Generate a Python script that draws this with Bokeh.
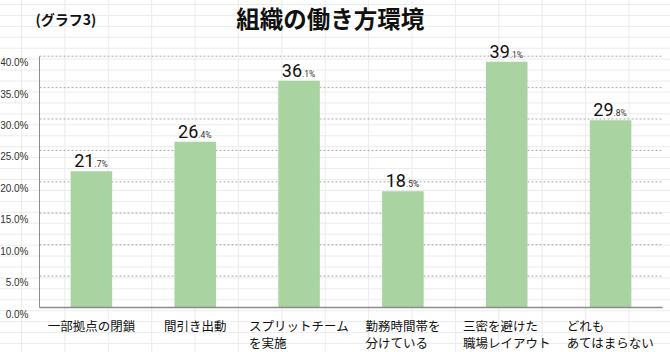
from bokeh.plotting import figure
from bokeh.models import ColumnDataSource, LabelSet, Label, FixedTicker, Range1d
from bokeh.core.properties import value
from bokeh.embed import file_html
from bokeh.resources import INLINE

# ---- data ----
categories = [
    "一部拠点の閉鎖",
    "間引き出動",
    "スプリットチーム\nを実施",
    "勤務時間帯を\n分けている",
    "三密を避けた\n職場レイアウト",
    "どれも\nあてはまらない",
]
values = [21.7, 26.4, 36.1, 18.5, 39.1, 29.8]
y_ticks = [0, 5, 10, 15, 20, 25, 30, 35, 40]
y_tick_labels = ["0.0%", "5.0%", "10.0%", "15.0%", "20.0%", "25.0%", "30.0%", "35.0%", "40.0%"]
title_text = "組織の働き方環境"
subtitle_text = "(グラフ3)"

JP = "Noto Sans CJK JP"
NUM = "Roboto"
BAR = "#a9d3a0"

n = len(categories)
xpos = [i + 0.5 for i in range(n)]
int_txt = [str(int(v)) for v in values]
dec_txt = ["." + str(int(round(v * 10)) % 10) + "%" for v in values]
src = ColumnDataSource(dict(x=xpos, val=values, it=int_txt, dt=dec_txt))

W, H = 670, 352
left_px, right_px, top_px, bottom_px = 39, 8, 55.7, 45
ymax = y_ticks[-1]
px_x = (W - left_px - right_px) / n
px_y = (H - top_px - bottom_px) / ymax

p = figure(width=W, height=H,
           x_range=Range1d(-left_px / px_x, n + right_px / px_x),
           y_range=Range1d(-bottom_px / px_y, ymax + top_px / px_y),
           output_backend="svg", toolbar_location=None, title_location=None,
           min_border=0)
p.background_fill_alpha = 0
p.border_fill_alpha = 0
p.outline_line_color = None
p.grid.visible = False
p.styles = {
    "background-color": "white",
    "background-image": "linear-gradient(to right, #ebebeb 1px, transparent 1px), "
                        "linear-gradient(to bottom, #ebebeb 1px, transparent 1px)",
    "background-size": "43.4px 10.95px",
    "background-position": "21px 4px",
}

# axes drawn inside the frame at fixed locations
p.xaxis.fixed_location = 0
p.xaxis.bounds = (0, n)
p.yaxis.fixed_location = 0
p.yaxis.bounds = (0, ymax)
for ax in (p.xaxis, p.yaxis):
    ax.ticker = FixedTicker(ticks=[])
    ax.major_tick_line_color = None
    ax.minor_tick_line_color = None
    ax.axis_line_color = "#8c8c8c"
p.xaxis.axis_line_width = 1.5

# dotted gridlines
gl = y_ticks[1:]
p.segment(x0=[0] * len(gl), x1=[n] * len(gl), y0=gl, y1=gl,
          line_color="#aaaaaa", line_dash="2 2", line_width=1)

p.vbar(x="x", top="val", width=0.4, source=src, fill_color=BAR, line_color=None)

# y tick labels (sit a little below their gridlines)
ysrc = ColumnDataSource(dict(x=[0] * len(y_ticks), y=y_ticks, t=y_tick_labels))
p.add_layout(LabelSet(x="x", y="y", text="t", source=ysrc, x_offset=-11, y_offset=-6.5,
                      text_align="right", text_baseline="middle",
                      text_font=value("Liberation Sans"), text_font_size="10px",
                      text_color="#333333"))

# category labels: one LabelSet per line, lines left-aligned
fs = 12.5
parts = [c.split("\n") for c in categories]
offs = [-max(len(s) for s in pr) * fs / 2 for pr in parts]
for k, dy in enumerate([-18, -35]):
    line_txt = [pr[k] if len(pr) > k else "" for pr in parts]
    lsrc = ColumnDataSource(dict(x=xpos, y=[0] * n, t=line_txt, o=offs))
    p.add_layout(LabelSet(x="x", y="y", text="t", source=lsrc, x_offset="o", y_offset=dy,
                          text_align="left", text_baseline="middle",
                          text_font=value(JP), text_font_size=f"{fs}px", text_color="#111111"))

# value labels
p.add_layout(LabelSet(x="x", y="val", text="it", source=src, x_offset=3, y_offset=4,
                      text_align="right", text_baseline="alphabetic",
                      text_font=value(NUM), text_font_size="18px", text_color="#111111"))
p.add_layout(LabelSet(x="x", y="val", text="dt", source=src, x_offset=3, y_offset=4,
                      text_align="left", text_baseline="alphabetic",
                      text_font=value(NUM), text_font_size="8.5px", text_color="#333333"))

# titles
p.add_layout(Label(x=2.8, y=ymax, text=title_text, y_offset=38.5,
                   text_align="center", text_baseline="middle",
                   text_font=JP, text_font_style="bold", text_font_size="23.5px", text_color="#111111"))
p.add_layout(Label(x=0, y=ymax, text=subtitle_text, x_offset=-4, y_offset=37.5,
                   text_align="left", text_baseline="middle",
                   text_font=JP, text_font_style="bold", text_font_size="14px", text_color="#111111"))

open("out.html", "w").write(file_html(p, INLINE))
